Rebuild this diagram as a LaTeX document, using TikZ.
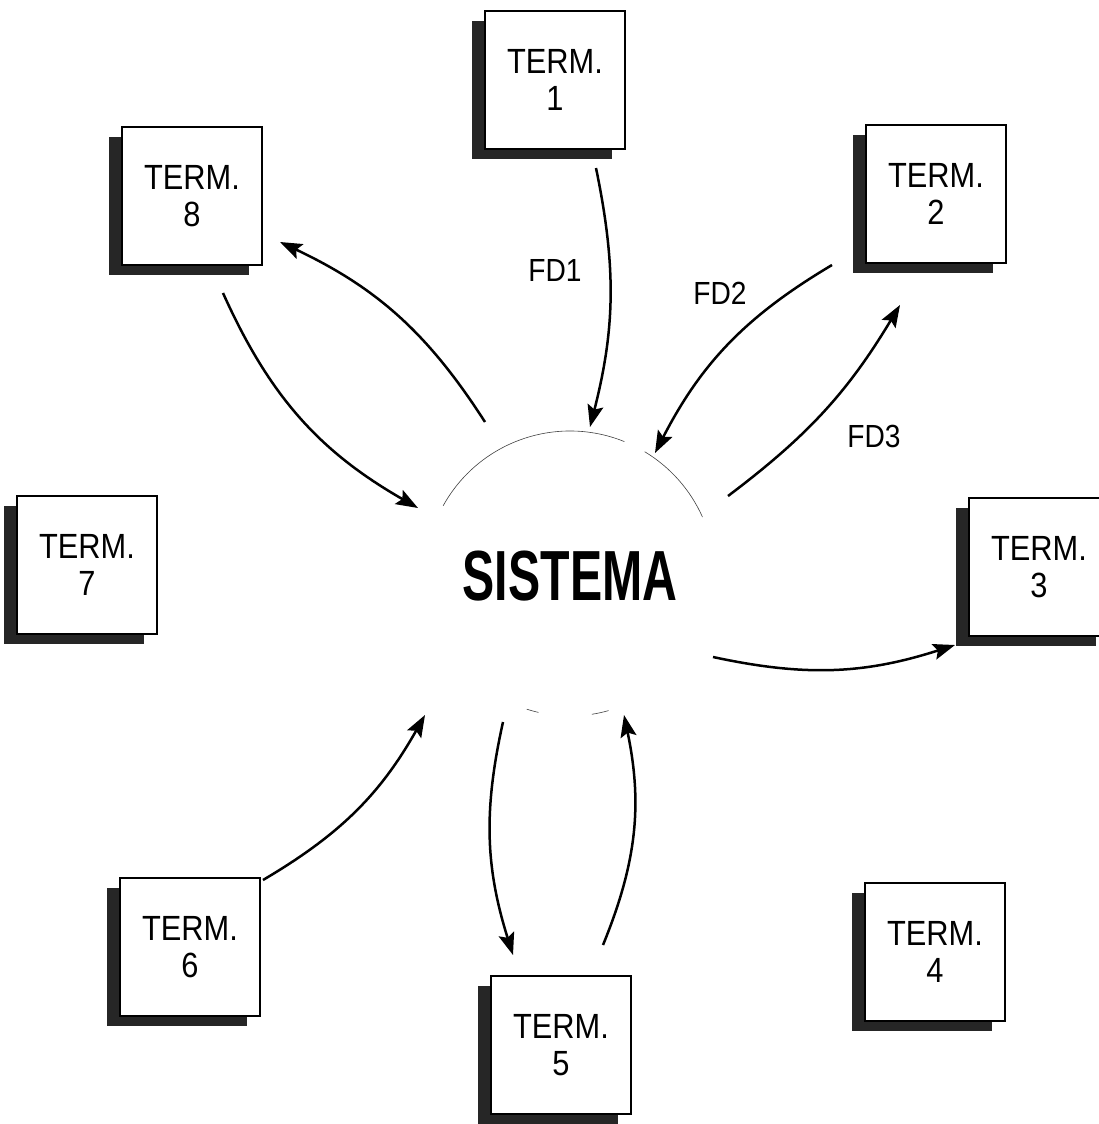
\documentclass[tikz,border=0pt]{standalone}
\usepackage{fontspec}
\setmainfont{Liberation Sans}
\newfontfamily\termfont[FakeStretch=0.88]{Liberation Sans}
\newfontfamily\sysfont[FakeStretch=0.68]{Liberation Sans}
\usetikzlibrary{arrows.meta, calc, shadows}

\begin{document}
\begin{tikzpicture}[
  x=1pt, y=-1pt,
  every node/.style={font=\termfont\fontsize{35}{37}\selectfont},
  term/.style={rectangle, draw, line width=2.6pt, fill=white, minimum width=140pt, minimum height=138pt, align=center, inner sep=0pt,
    general shadow={fill=black!85, shadow xshift=-13pt, shadow yshift=-10pt}},
  flow/.style={-{Stealth[length=22pt, width=16pt, inset=4pt]}, line width=2.5pt},
  flowlabel/.style={font=\termfont\fontsize{32}{34}\selectfont},
  rim/.style={line width=0.6pt, black!75},
]
\useasboundingbox (0,0) rectangle (1099,1124);

% terminals round the system
\node[term] (t1) at (555,80) {TERM.\\1};
\node[term] (t2) at (936,194) {TERM.\\2};
\node[term] (t3) at (1039,567) {TERM.\\3};
\node[term] (t4) at (935,952) {TERM.\\4};
\node[term] (t5) at (561,1045) {TERM.\\5};
\node[term] (t6) at (190,947) {TERM.\\6};
\node[term] (t7) at (87,565) {TERM.\\7};
\node[term] (t8) at (192,196) {TERM.\\8};

% central process
\node[font=\sysfont\bfseries\fontsize{71}{71}\selectfont] (sys) at (570,576) {SISTEMA};
\draw[rim] ($(sys)+(151:145pt)$) arc[start angle=151, end angle=68, radius=145pt];
\draw[rim] ($(sys)+(59:145pt)$) arc[start angle=59, end angle=24, radius=145pt];
\draw[rim] ($(sys)+(-108:140pt)$) arc[start angle=-108, end angle=-103, radius=140pt];
\draw[rim] ($(sys)+(-81:140pt)$) arc[start angle=-81, end angle=-74, radius=140pt];

% data flows
\draw[flow] ($(t1)+(41,88)$) to[bend left=13] ($(sys)+(20,-149)$);
\draw[flow] ($(t2)+(-104,71)$) to[bend right=16] ($(sys)+(85,-123)$);
\draw[flow] ($(sys)+(158,-80)$) to[bend right=11] ($(t2)+(-36,111)$);
\draw[flow] ($(sys)+(143,81)$) to[bend right=15] ($(t3)+(-84,78)$);
\draw[flow] ($(sys)+(-67,146)$) to[bend right=15] ($(t5)+(-48,-90)$);
\draw[flow] ($(t5)+(42,-100)$) to[bend right=17] ($(sys)+(54,139)$);
\draw[flow] ($(t6)+(73,-67)$) to[bend right=15] ($(sys)+(-145,139)$);
\draw[flow] ($(t8)+(31,97)$) to[bend right=18] ($(sys)+(-152,-68)$);
\draw[flow] ($(sys)+(-85,-154)$) to[bend right=16] ($(t8)+(88,46)$);

% flow labels
\node[flowlabel] (fd1) at (555,270) {FD1};
\node[flowlabel] (fd2) at (720,293) {FD2};
\node[flowlabel] (fd3) at (874,436) {FD3};

\end{tikzpicture}
\end{document}
